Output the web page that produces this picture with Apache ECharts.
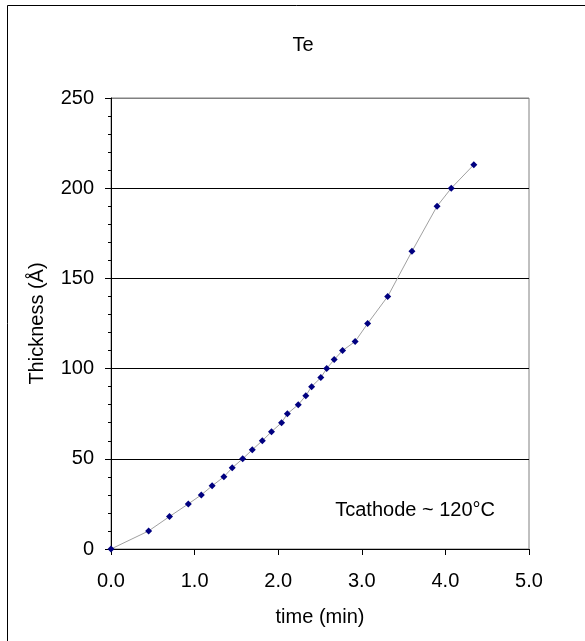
<!DOCTYPE html>
<html>
<head>
<meta charset="utf-8">
<script src="https://cdn.jsdelivr.net/npm/echarts@6/dist/echarts.min.js"></script>
<style>
  html,body{margin:0;padding:0;background:#fff;}
  #chart{width:585px;height:641px;}
</style>
</head>
<body>
<div id="chart"></div>
<script>
// time (min) and thickness (Å)
var times = [0, 0.45, 0.70, 0.925, 1.08, 1.21, 1.35, 1.45, 1.575, 1.69, 1.81, 1.92, 2.04, 2.11,
             2.24, 2.33, 2.40, 2.51, 2.58, 2.67, 2.77, 2.92, 3.07, 3.31, 3.60, 3.90, 4.07, 4.34];
var thickness = [0, 10, 18, 25, 30, 35, 40, 45, 50, 55, 60, 65, 70, 75,
                 80, 85, 90, 95, 100, 105, 110, 115, 125, 140, 165, 190, 200, 213];
var xTicks = [0, 1, 2, 3, 4, 5];
var yTicks = [0, 50, 100, 150, 200, 250];

(function () {
  var myChart = echarts.init(document.getElementById('chart'));
  var font = 'Liberation Sans, Arial, sans-serif';
  var pts = times.map(function (t, i) { return [t, thickness[i]]; });

  var option = {
    animation: false,
    backgroundColor: '#fff',
    title: {
      text: 'Te',
      left: 298,
      top: 30,
      textAlign: 'center',
      textStyle: { fontFamily: font, fontSize: 20, fontWeight: 'normal', color: '#000' }
    },
    grid: {
      left: 111,
      right: 56,
      top: 98,
      bottom: 92,
      show: true,
      borderColor: '#808080',
      borderWidth: 1
    },
    xAxis: {
      type: 'value',
      min: xTicks[0],
      max: xTicks[xTicks.length - 1],
      interval: 1,
      name: 'time (min)',
      nameLocation: 'middle',
      nameGap: 58,
      nameTextStyle: { fontFamily: font, fontSize: 20, color: '#000' },
      axisLine: { show: true, lineStyle: { color: '#000', width: 1 } },
      axisTick: { show: true, inside: false, length: 6, lineStyle: { color: '#000' } },
      axisLabel: {
        margin: 22,
        fontFamily: font, fontSize: 20, color: '#000',
        formatter: function (v) { return v.toFixed(1); }
      },
      splitLine: { show: false }
    },
    yAxis: {
      type: 'value',
      min: yTicks[0],
      max: yTicks[yTicks.length - 1],
      interval: 50,
      name: 'Thickness (Å)',
      nameLocation: 'middle',
      nameGap: 64,
      nameTextStyle: { fontFamily: font, fontSize: 20, color: '#000' },
      axisLine: { show: true, lineStyle: { color: '#000', width: 1 } },
      axisTick: { show: true, inside: false, length: 6, lineStyle: { color: '#000' } },
      minorTick: { show: true, splitNumber: 5, length: 3, lineStyle: { color: '#000' } },
      axisLabel: { margin: 17, fontFamily: font, fontSize: 20, color: '#000' },
      splitLine: {
        show: true,
        lineStyle: { color: ['#000', '#000', '#000', '#000', '#000', '#808080'], width: 1 }
      }
    },
    graphic: [
      {
        type: 'rect',
        shape: { x: 7.5, y: 5.5, width: 620, height: 700 },
        style: { fill: null, stroke: '#000', lineWidth: 1 },
        silent: true
      },
      {
        type: 'text',
        x: 495,
        y: 510,
        style: {
          text: 'Tcathode ~ 120°C',
          fill: '#000',
          font: '20px Liberation Sans, Arial, sans-serif',
          textAlign: 'right',
          textVerticalAlign: 'middle'
        }
      }
    ],
    series: [
      {
        type: 'line',
        data: pts,
        symbol: 'diamond',
        symbolSize: 7,
        showAllSymbol: true,
        lineStyle: { color: '#a0a0a0', width: 1 },
        itemStyle: { color: '#000080' }
      }
    ]
  };
  myChart.setOption(option);
  window.addEventListener('resize', function () {
    myChart.resize();
  });
})();
</script>
</body>
</html>
